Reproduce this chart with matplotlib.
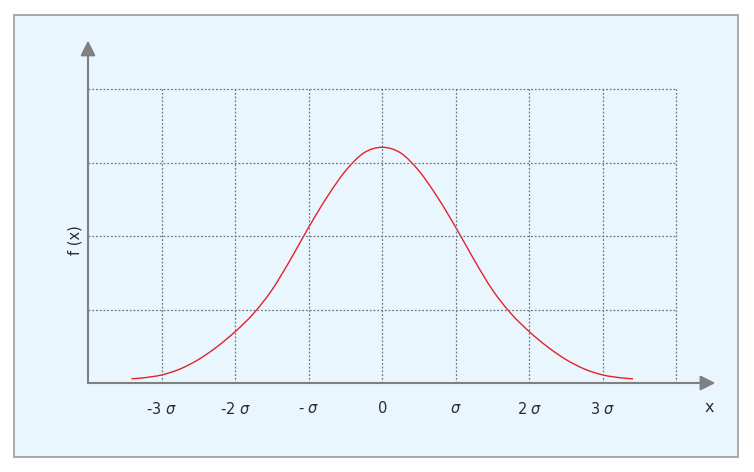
import numpy as np
import matplotlib.pyplot as plt
from matplotlib.patches import Rectangle, PathPatch
from matplotlib.path import Path

# Datos (x en unidades de sigma, y en unidades de rejilla)

x_curva = [-3.41, -3.25, -3.00, -2.75, -2.50, -2.25, -2.00, -1.75, -1.50, -1.25,
           -1.00, -0.75, -0.50, -0.25, 0.00,
           0.25, 0.50, 0.75, 1.00, 1.25, 1.50, 1.75, 2.00,
           2.25, 2.50, 2.75, 3.00, 3.25, 3.41]
y_curva = [0.058, 0.070, 0.109, 0.190, 0.318, 0.490, 0.698, 0.945, 1.265, 1.675,
           2.118, 2.530, 2.885, 3.130, 3.207,
           3.130, 2.885, 2.530, 2.118, 1.675, 1.265, 0.945, 0.698,
           0.490, 0.318, 0.190, 0.109, 0.070, 0.058]

ticks_x = [-3, -2, -1, 0, 1, 2, 3]
etiquetas_x = ["-3 $\\sigma$", "-2 $\\sigma$", "- $\\sigma$", "0", "$\\sigma$", "2 $\\sigma$", "3 $\\sigma$"]
rejilla_x = [-3, -2, -1, 0, 1, 2, 3, 4]
rejilla_y = [1, 2, 3, 4]

# Trazo suave (Catmull-Rom -> Bezier) por los puntos leidos

def trazo_suave(xs, ys):
    p = np.column_stack([xs, ys])
    verts = [p[0]]
    codes = [Path.MOVETO]
    for i in range(len(p) - 1):
        p0 = p[i - 1] if i > 0 else p[i]
        p3 = p[i + 2] if i + 2 < len(p) else p[i + 1]
        c1 = p[i] + (p[i + 1] - p0) / 6
        c2 = p[i + 1] - (p3 - p[i]) / 6
        verts += [c1, c2, p[i + 1]]
        codes += [Path.CURVE4] * 3
    return Path(verts, codes)

# Figura

fondo = "#eaf6fe"
gris = "#808080"

fig = plt.figure(figsize=(7.54, 4.72), dpi=100)
fig.patch.set_facecolor("white")
marco = Rectangle((14 / 754, 1 - 457 / 472), (738 - 14) / 754, (457 - 15) / 472,
                  transform=fig.transFigure, facecolor=fondo,
                  edgecolor="#9a9a9a", linewidth=1.2, zorder=-10)
fig.patches.append(marco)

ax = fig.add_axes([88 / 754, (472 - 383) / 472, (720 - 88) / 754, (383 - 38) / 472])
ax.set_zorder(1)
ax.set_facecolor("none")
ax.patch.set_alpha(0)
ax.set_xlim(-4, (720 - 382) / 73.6)
ax.set_ylim(0, (383 - 38) / 73.5)
for s in ax.spines.values():
    s.set_visible(False)

# Rejilla punteada

ax.vlines(rejilla_x, 0, 4, colors="#6f7680", linestyles=(0, (1.5, 1.5)), linewidth=0.9)
ax.hlines(rejilla_y, -4, 4, colors="#6f7680", linestyles=(0, (1.5, 1.5)), linewidth=0.9)

# Ejes con flecha

ax.annotate("", xy=(4.53, 0), xytext=(-4, 0),
            arrowprops=dict(arrowstyle="-|>,head_length=0.9,head_width=0.45", color=gris, lw=1.5,
                            shrinkA=0, shrinkB=0), annotation_clip=False)
ax.annotate("", xy=(-4, 4.66), xytext=(-4, 0),
            arrowprops=dict(arrowstyle="-|>,head_length=0.9,head_width=0.45", color=gris, lw=1.5,
                            shrinkA=0, shrinkB=0), annotation_clip=False)

# Curva

ax.add_patch(PathPatch(trazo_suave(x_curva, y_curva), facecolor="none",
                       edgecolor="#e8202a", linewidth=1.0))

ax.set_xticks(ticks_x)
ax.set_xticklabels(etiquetas_x, fontsize=10.5, color="#2b2b2b")
ax.tick_params(axis="x", length=0, pad=13)
ax.set_yticks([])

ax.text(4.45, -0.34, "x", fontsize=11.5, color="#2b2b2b", ha="center", va="center")
ax.text(-4.17, 1.95, "f (x)", fontsize=10.5, color="#2b2b2b", rotation=90,
        ha="center", va="center")

plt.savefig("out.png", dpi=100, facecolor=fig.get_facecolor())
